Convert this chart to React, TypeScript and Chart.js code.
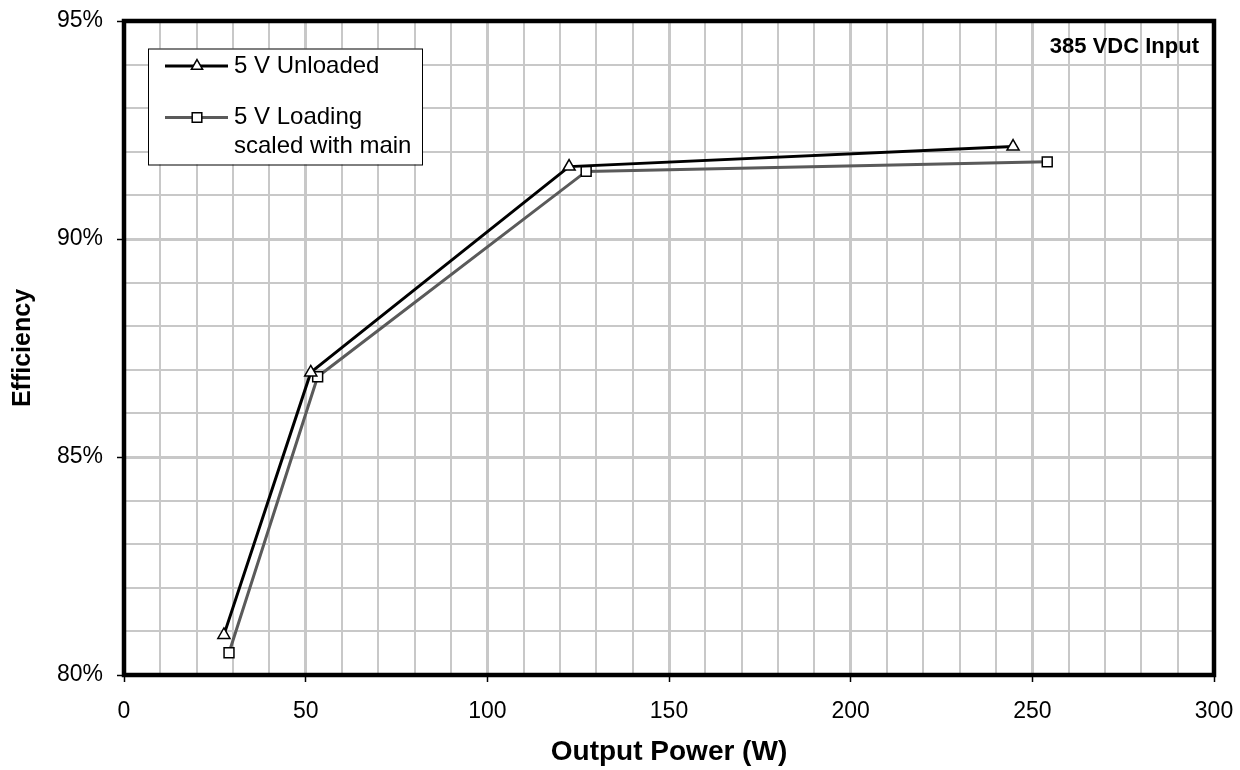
import React, { useEffect, useRef } from 'react';
import { Chart, registerables } from 'chart.js';

Chart.register(...registerables);

// ---- data ----
const unloadedPower = [27.5, 51.4, 122.5, 244.7];
const unloadedEff = [80.92, 86.94, 91.66, 92.12];
const loadingPower = [28.9, 53.3, 127.2, 254.1];
const loadingEff = [80.51, 86.84, 91.55, 91.77];
const seriesNames = ['5 V Unloaded', '5 V Loading scaled with main'];
const legendLines = [['5 V Unloaded'], ['5 V Loading', 'scaled with main']];
const xMajorTicks = [0, 50, 100, 150, 200, 250, 300];
const yMajorTicks = [80, 85, 90, 95];
const xTitle = 'Output Power (W)';
const yTitle = 'Efficiency';
const annotationText = '385 VDC Input';

const FONT = '"Liberation Sans", Arial, Helvetica, sans-serif';
const GRID = '#c8c8c8';

function drawTriangle(ctx: CanvasRenderingContext2D, cx: number, cy: number, r: number) {
  ctx.beginPath();
  for (let i = 0; i < 3; i++) {
    const a = -Math.PI / 2 + (i * 2 * Math.PI) / 3;
    const px = cx + Math.cos(a) * r;
    const py = cy + Math.sin(a) * r;
    if (i === 0) ctx.moveTo(px, py);
    else ctx.lineTo(px, py);
  }
  ctx.closePath();
  ctx.fillStyle = '#fff';
  ctx.fill();
  ctx.lineWidth = 1.5;
  ctx.strokeStyle = '#000';
  ctx.stroke();
}

function drawSquare(ctx: CanvasRenderingContext2D, cx: number, cy: number, half: number) {
  ctx.beginPath();
  ctx.rect(cx - half, cy - half, half * 2, half * 2);
  ctx.fillStyle = '#fff';
  ctx.fill();
  ctx.lineWidth = 1.5;
  ctx.strokeStyle = '#000';
  ctx.stroke();
}

const decorPlugin = {
  id: 'decor',
  afterDraw(chart: any) {
    const { ctx, chartArea: a } = chart;
    ctx.save();
    // legend box
    const bx = a.left + 24;
    const by = a.top + 27.5;
    const bw = 274;
    const bh = 116;
    ctx.fillStyle = '#fff';
    ctx.fillRect(bx, by, bw, bh);
    ctx.lineWidth = 1;
    ctx.strokeStyle = '#000';
    ctx.strokeRect(bx + 0.5, by + 0.5, bw, bh);

    const lx1 = bx + 17;
    const lx2 = bx + 80;
    const mx = bx + 49;
    const tx = bx + 86;
    const row1 = by + 17.5;
    const row2 = by + 69;
    const rowGap = 29;

    ctx.lineWidth = 3;
    ctx.strokeStyle = '#000';
    ctx.beginPath();
    ctx.moveTo(lx1, row1);
    ctx.lineTo(lx2, row1);
    ctx.stroke();
    drawTriangle(ctx, mx, row1, 6.5);

    ctx.lineWidth = 3;
    ctx.strokeStyle = '#5a5a5a';
    ctx.beginPath();
    ctx.moveTo(lx1, row2);
    ctx.lineTo(lx2, row2);
    ctx.stroke();
    drawSquare(ctx, mx, row2, 4.8);

    ctx.fillStyle = '#000';
    ctx.font = `24px ${FONT}`;
    ctx.textAlign = 'left';
    ctx.textBaseline = 'middle';
    legendLines[0].forEach((t, i) => ctx.fillText(t, tx, row1 + i * rowGap));
    legendLines[1].forEach((t, i) => ctx.fillText(t, tx, row2 + i * rowGap));

    // annotation
    ctx.font = `bold 22px ${FONT}`;
    ctx.textAlign = 'right';
    ctx.fillText(annotationText, a.right - 15, a.top + 26);

    // frame
    ctx.lineWidth = 4.5;
    ctx.strokeStyle = '#000';
    ctx.strokeRect(a.left, a.top, a.right - a.left, a.bottom - a.top);
    ctx.restore();
  },
};

export default function App() {
  const ref = useRef<HTMLCanvasElement | null>(null);

  useEffect(() => {
    if (!ref.current) return;
    Chart.defaults.font.family = FONT;
    const isMajorX = (v: number) => xMajorTicks.includes(v);
    const isMajorY = (v: number) => yMajorTicks.includes(v);
    const chart = new Chart(ref.current, {
      type: 'line',
      data: {
        datasets: [
          {
            label: seriesNames[0],
            data: unloadedPower.map((x, i) => ({ x, y: unloadedEff[i] })),
            borderColor: '#000',
            borderWidth: 3,
            pointStyle: 'triangle',
            pointRadius: 7,
            pointBackgroundColor: '#fff',
            pointBorderColor: '#000',
            pointBorderWidth: 1.5,
            tension: 0,
          },
          {
            label: seriesNames[1],
            data: loadingPower.map((x, i) => ({ x, y: loadingEff[i] })),
            borderColor: '#5a5a5a',
            borderWidth: 3,
            pointStyle: 'rect',
            pointRadius: 7,
            pointBackgroundColor: '#fff',
            pointBorderColor: '#000',
            pointBorderWidth: 1.5,
            tension: 0,
          },
        ],
      },
      options: {
        responsive: false,
        animation: false,
        devicePixelRatio: 1,
        layout: { padding: { top: 21, right: 26, left: 0, bottom: 0 } },
        plugins: { legend: { display: false }, tooltip: { enabled: false } },
        scales: {
          x: {
            type: 'linear',
            min: 0,
            max: 300,
            border: { display: false },
            grid: {
              color: GRID,
              lineWidth: (c: any) => (isMajorX(c.tick?.value) ? 3 : 2),
              tickLength: 7,
              tickWidth: 1.5,
              tickColor: (c: any) => (isMajorX(c.tick?.value) ? '#000' : 'rgba(0,0,0,0)'),
            },
            ticks: {
              stepSize: 10,
              autoSkip: false,
              maxRotation: 0,
              padding: 16,
              color: '#000',
              font: { size: 23, family: FONT },
              callback: (v: any) => (isMajorX(Number(v)) ? String(v) : ''),
            },
            title: {
              display: true,
              text: xTitle,
              color: '#000',
              font: { size: 28, weight: 'bold', family: FONT },
              padding: { top: 0, bottom: 1 },
            },
            afterFit: (s: any) => {
              s.height = 95;
              s.paddingLeft = 0;
              s.paddingRight = 0;
            },
          },
          y: {
            type: 'linear',
            min: 80,
            max: 95,
            border: { display: false },
            grid: {
              color: GRID,
              lineWidth: (c: any) => (isMajorY(c.tick?.value) ? 3 : 2),
              tickLength: 7,
              tickWidth: 1.5,
              tickColor: (c: any) => (isMajorY(c.tick?.value) ? '#000' : 'rgba(0,0,0,0)'),
            },
            ticks: {
              stepSize: 1,
              autoSkip: false,
              padding: 14,
              color: '#000',
              font: { size: 23, family: FONT },
              callback: (v: any) => (isMajorY(Number(v)) ? `${v}%` : ''),
            },
            title: {
              display: true,
              text: yTitle,
              color: '#000',
              font: { size: 25, weight: 'bold', family: FONT },
              padding: { top: 8, bottom: 0 },
            },
            afterFit: (s: any) => {
              s.width = 124;
              s.paddingTop = 0;
              s.paddingBottom = 0;
            },
          },
        },
      },
      plugins: [decorPlugin],
    } as any);
    return () => chart.destroy();
  }, []);

  return (
    <div style={{ position: 'fixed', left: 0, top: 0, width: 1240, height: 770, background: '#fff' }}>
      <canvas ref={ref} width={1240} height={770} style={{ width: 1240, height: 770, display: 'block' }} />
    </div>
  );
}
